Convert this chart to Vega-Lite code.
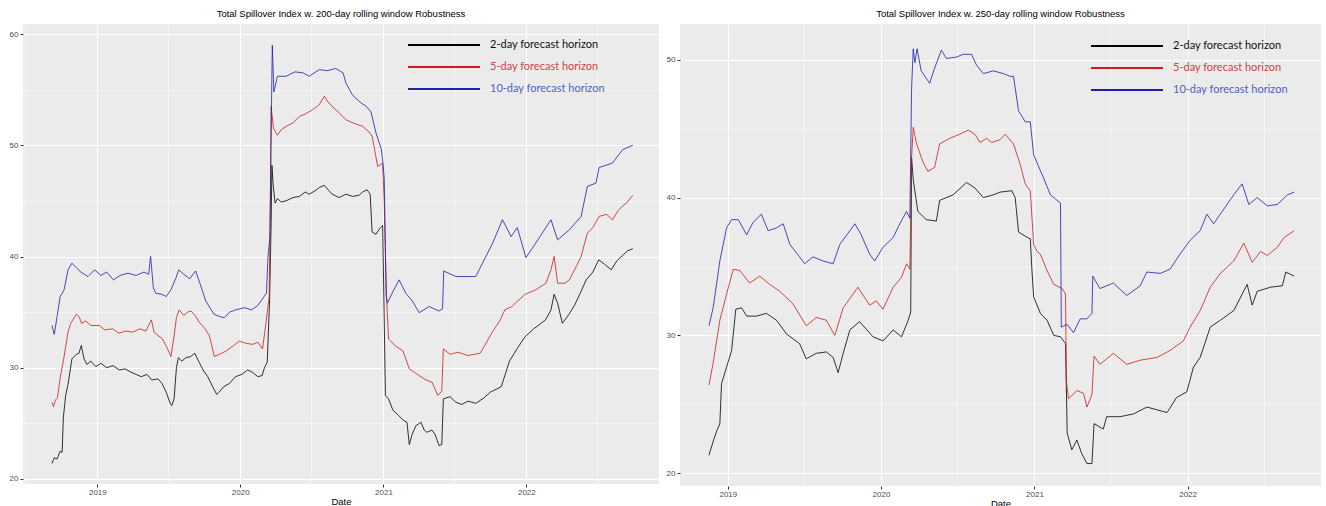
{
"$schema": "https://vega.github.io/schema/vega-lite/v6.json",
"padding": {"left": 9, "top": 8, "right": 4, "bottom": 0},
"spacing": 7,
"config": {
  "view": {"fill": "#EBEBEB", "stroke": null},
  "axis": {"domain": false, "gridColor": "#FFFFFF", "tickColor": "#333333", "tickSize": 3, "labelColor": "#4D4D4D", "labelFont": "Liberation Sans", "labelFontSize": 8, "labelPadding": 2, "titleFont": "Liberation Sans", "titleFontSize": 9.5, "titleFontWeight": "normal", "titleColor": "#000000", "labelOverlap": false},
  "title": {"font": "Liberation Sans", "fontSize": 9.5, "fontWeight": "normal", "color": "#000000", "anchor": "middle", "frame": "group", "offset": 6},
  "legend": {"orient": "none", "title": null, "symbolType": "M-6,0H6", "symbolSize": 144, "symbolStrokeWidth": 2, "symbolOffset": 30, "labelFont": "Lato", "labelFontSize": 11, "labelOffset": 39, "rowPadding": 10, "padding": 0, "labelLimit": 300}
},
"resolve": {"scale": {"x": "independent", "y": "independent", "color": "independent"}, "legend": {"color": "independent"}},
"datasets": {
"left": [
{"h":"2","d":"2018-09-07","v":21.4},{"h":"2","d":"2018-09-13","v":21.9},{"h":"2","d":"2018-09-20","v":21.8},{"h":"2","d":"2018-09-28","v":22.5},{"h":"2","d":"2018-10-03","v":22.4},{"h":"2","d":"2018-10-06","v":25.5},{"h":"2","d":"2018-10-12","v":27.5},{"h":"2","d":"2018-10-18","v":28.5},{"h":"2","d":"2018-10-28","v":30.8},{"h":"2","d":"2018-11-08","v":31.2},{"h":"2","d":"2018-11-15","v":31.3},{"h":"2","d":"2018-11-21","v":32.0},{"h":"2","d":"2018-11-28","v":30.8},{"h":"2","d":"2018-12-05","v":30.3},{"h":"2","d":"2018-12-15","v":30.6},{"h":"2","d":"2018-12-28","v":30.1},{"h":"2","d":"2019-01-10","v":30.4},{"h":"2","d":"2019-01-25","v":30.0},{"h":"2","d":"2019-02-10","v":30.2},{"h":"2","d":"2019-02-26","v":29.8},{"h":"2","d":"2019-03-13","v":29.9},{"h":"2","d":"2019-03-28","v":29.6},{"h":"2","d":"2019-04-10","v":29.4},{"h":"2","d":"2019-04-23","v":29.2},{"h":"2","d":"2019-05-08","v":29.4},{"h":"2","d":"2019-05-20","v":28.9},{"h":"2","d":"2019-06-05","v":29.0},{"h":"2","d":"2019-06-15","v":28.6},{"h":"2","d":"2019-06-26","v":27.8},{"h":"2","d":"2019-07-06","v":26.8},{"h":"2","d":"2019-07-10","v":26.6},{"h":"2","d":"2019-07-16","v":27.2},{"h":"2","d":"2019-07-22","v":30.0},{"h":"2","d":"2019-07-27","v":30.9},{"h":"2","d":"2019-08-05","v":30.6},{"h":"2","d":"2019-08-15","v":30.9},{"h":"2","d":"2019-08-27","v":31.0},{"h":"2","d":"2019-09-07","v":31.3},{"h":"2","d":"2019-09-18","v":30.5},{"h":"2","d":"2019-09-28","v":29.8},{"h":"2","d":"2019-10-10","v":29.2},{"h":"2","d":"2019-10-24","v":28.2},{"h":"2","d":"2019-11-02","v":27.6},{"h":"2","d":"2019-11-08","v":27.8},{"h":"2","d":"2019-11-20","v":28.3},{"h":"2","d":"2019-12-05","v":28.6},{"h":"2","d":"2019-12-20","v":29.2},{"h":"2","d":"2020-01-05","v":29.4},{"h":"2","d":"2020-01-20","v":29.8},{"h":"2","d":"2020-02-01","v":29.6},{"h":"2","d":"2020-02-15","v":29.2},{"h":"2","d":"2020-02-26","v":29.3},{"h":"2","d":"2020-03-03","v":30.0},{"h":"2","d":"2020-03-10","v":30.5},{"h":"2","d":"2020-03-16","v":36.0},{"h":"2","d":"2020-03-20","v":43.0},{"h":"2","d":"2020-03-22","v":48.2},{"h":"2","d":"2020-03-25","v":46.5},{"h":"2","d":"2020-03-30","v":44.8},{"h":"2","d":"2020-04-05","v":45.2},{"h":"2","d":"2020-04-15","v":44.9},{"h":"2","d":"2020-04-27","v":45.0},{"h":"2","d":"2020-05-15","v":45.3},{"h":"2","d":"2020-05-31","v":45.4},{"h":"2","d":"2020-06-15","v":45.8},{"h":"2","d":"2020-06-25","v":45.6},{"h":"2","d":"2020-07-10","v":45.9},{"h":"2","d":"2020-07-21","v":46.2},{"h":"2","d":"2020-08-03","v":46.4},{"h":"2","d":"2020-08-15","v":45.9},{"h":"2","d":"2020-08-23","v":45.6},{"h":"2","d":"2020-09-10","v":45.3},{"h":"2","d":"2020-09-27","v":45.6},{"h":"2","d":"2020-10-14","v":45.4},{"h":"2","d":"2020-10-30","v":45.5},{"h":"2","d":"2020-11-09","v":45.8},{"h":"2","d":"2020-11-20","v":46.0},{"h":"2","d":"2020-11-28","v":45.6},{"h":"2","d":"2020-12-03","v":42.2},{"h":"2","d":"2020-12-13","v":42.0},{"h":"2","d":"2020-12-22","v":42.5},{"h":"2","d":"2020-12-30","v":42.8},{"h":"2","d":"2021-01-06","v":27.5},{"h":"2","d":"2021-01-14","v":27.2},{"h":"2","d":"2021-01-25","v":26.2},{"h":"2","d":"2021-02-09","v":25.7},{"h":"2","d":"2021-02-20","v":25.3},{"h":"2","d":"2021-03-02","v":25.1},{"h":"2","d":"2021-03-08","v":23.1},{"h":"2","d":"2021-03-15","v":24.0},{"h":"2","d":"2021-03-25","v":24.8},{"h":"2","d":"2021-04-07","v":25.1},{"h":"2","d":"2021-04-15","v":24.4},{"h":"2","d":"2021-04-22","v":24.2},{"h":"2","d":"2021-05-05","v":24.4},{"h":"2","d":"2021-05-13","v":24.0},{"h":"2","d":"2021-05-23","v":23.0},{"h":"2","d":"2021-05-30","v":23.1},{"h":"2","d":"2021-06-03","v":27.2},{"h":"2","d":"2021-06-20","v":27.4},{"h":"2","d":"2021-07-05","v":26.9},{"h":"2","d":"2021-07-20","v":26.7},{"h":"2","d":"2021-08-05","v":27.0},{"h":"2","d":"2021-08-25","v":26.8},{"h":"2","d":"2021-09-15","v":27.3},{"h":"2","d":"2021-10-01","v":27.8},{"h":"2","d":"2021-10-29","v":28.3},{"h":"2","d":"2021-11-19","v":30.6},{"h":"2","d":"2021-12-10","v":31.8},{"h":"2","d":"2021-12-29","v":32.8},{"h":"2","d":"2022-01-20","v":33.5},{"h":"2","d":"2022-02-19","v":34.3},{"h":"2","d":"2022-03-05","v":35.2},{"h":"2","d":"2022-03-13","v":36.6},{"h":"2","d":"2022-03-22","v":35.8},{"h":"2","d":"2022-04-03","v":34.0},{"h":"2","d":"2022-04-20","v":34.8},{"h":"2","d":"2022-05-04","v":35.6},{"h":"2","d":"2022-05-20","v":36.8},{"h":"2","d":"2022-06-03","v":37.9},{"h":"2","d":"2022-06-20","v":38.6},{"h":"2","d":"2022-07-05","v":39.7},{"h":"2","d":"2022-07-20","v":39.3},{"h":"2","d":"2022-08-06","v":38.8},{"h":"2","d":"2022-08-20","v":39.6},{"h":"2","d":"2022-09-04","v":40.1},{"h":"2","d":"2022-09-16","v":40.5},{"h":"2","d":"2022-09-30","v":40.7},
{"h":"5","d":"2018-09-07","v":26.9},{"h":"5","d":"2018-09-11","v":26.5},{"h":"5","d":"2018-09-16","v":27.1},{"h":"5","d":"2018-09-21","v":27.3},{"h":"5","d":"2018-09-28","v":29.1},{"h":"5","d":"2018-10-08","v":31.0},{"h":"5","d":"2018-10-18","v":33.2},{"h":"5","d":"2018-10-25","v":34.0},{"h":"5","d":"2018-11-08","v":34.8},{"h":"5","d":"2018-11-15","v":34.6},{"h":"5","d":"2018-11-22","v":34.0},{"h":"5","d":"2018-12-02","v":34.2},{"h":"5","d":"2018-12-15","v":33.8},{"h":"5","d":"2019-01-06","v":33.8},{"h":"5","d":"2019-01-20","v":33.4},{"h":"5","d":"2019-02-09","v":33.5},{"h":"5","d":"2019-02-25","v":33.1},{"h":"5","d":"2019-03-15","v":33.3},{"h":"5","d":"2019-04-01","v":33.2},{"h":"5","d":"2019-04-20","v":33.5},{"h":"5","d":"2019-05-05","v":33.3},{"h":"5","d":"2019-05-19","v":34.3},{"h":"5","d":"2019-05-26","v":33.2},{"h":"5","d":"2019-06-05","v":32.9},{"h":"5","d":"2019-06-16","v":32.6},{"h":"5","d":"2019-06-28","v":31.8},{"h":"5","d":"2019-07-08","v":31.0},{"h":"5","d":"2019-07-15","v":32.6},{"h":"5","d":"2019-07-22","v":34.5},{"h":"5","d":"2019-07-29","v":35.2},{"h":"5","d":"2019-08-10","v":34.7},{"h":"5","d":"2019-08-20","v":35.0},{"h":"5","d":"2019-08-28","v":35.1},{"h":"5","d":"2019-09-08","v":34.7},{"h":"5","d":"2019-09-18","v":34.1},{"h":"5","d":"2019-10-01","v":33.6},{"h":"5","d":"2019-10-14","v":32.9},{"h":"5","d":"2019-10-27","v":31.0},{"h":"5","d":"2019-11-08","v":31.2},{"h":"5","d":"2019-11-26","v":31.5},{"h":"5","d":"2019-12-15","v":32.0},{"h":"5","d":"2019-12-30","v":32.4},{"h":"5","d":"2020-01-15","v":32.2},{"h":"5","d":"2020-02-02","v":32.1},{"h":"5","d":"2020-02-15","v":32.3},{"h":"5","d":"2020-02-27","v":31.7},{"h":"5","d":"2020-03-07","v":34.1},{"h":"5","d":"2020-03-15","v":36.4},{"h":"5","d":"2020-03-18","v":45.0},{"h":"5","d":"2020-03-20","v":53.5},{"h":"5","d":"2020-03-26","v":51.5},{"h":"5","d":"2020-04-05","v":50.9},{"h":"5","d":"2020-04-15","v":51.4},{"h":"5","d":"2020-04-27","v":51.7},{"h":"5","d":"2020-05-15","v":52.0},{"h":"5","d":"2020-05-31","v":52.6},{"h":"5","d":"2020-06-15","v":52.8},{"h":"5","d":"2020-07-04","v":53.2},{"h":"5","d":"2020-07-20","v":53.6},{"h":"5","d":"2020-08-03","v":54.4},{"h":"5","d":"2020-08-12","v":53.9},{"h":"5","d":"2020-08-23","v":53.5},{"h":"5","d":"2020-09-10","v":52.9},{"h":"5","d":"2020-09-27","v":52.3},{"h":"5","d":"2020-10-15","v":52.0},{"h":"5","d":"2020-11-09","v":51.7},{"h":"5","d":"2020-11-25","v":51.2},{"h":"5","d":"2020-12-03","v":50.8},{"h":"5","d":"2020-12-10","v":49.5},{"h":"5","d":"2020-12-17","v":48.1},{"h":"5","d":"2020-12-30","v":48.4},{"h":"5","d":"2021-01-03","v":44.8},{"h":"5","d":"2021-01-08","v":37.0},{"h":"5","d":"2021-01-14","v":32.6},{"h":"5","d":"2021-01-30","v":32.0},{"h":"5","d":"2021-02-20","v":31.5},{"h":"5","d":"2021-03-08","v":29.9},{"h":"5","d":"2021-04-02","v":29.3},{"h":"5","d":"2021-04-20","v":28.9},{"h":"5","d":"2021-05-05","v":28.7},{"h":"5","d":"2021-05-20","v":27.5},{"h":"5","d":"2021-05-30","v":27.9},{"h":"5","d":"2021-06-03","v":31.7},{"h":"5","d":"2021-06-20","v":31.2},{"h":"5","d":"2021-07-10","v":31.4},{"h":"5","d":"2021-08-05","v":31.1},{"h":"5","d":"2021-09-05","v":31.3},{"h":"5","d":"2021-09-20","v":32.2},{"h":"5","d":"2021-10-06","v":33.2},{"h":"5","d":"2021-10-25","v":34.2},{"h":"5","d":"2021-11-07","v":35.2},{"h":"5","d":"2021-11-25","v":35.5},{"h":"5","d":"2021-12-10","v":36.0},{"h":"5","d":"2021-12-29","v":36.6},{"h":"5","d":"2022-01-25","v":37.0},{"h":"5","d":"2022-02-20","v":37.6},{"h":"5","d":"2022-03-05","v":38.8},{"h":"5","d":"2022-03-13","v":40.0},{"h":"5","d":"2022-03-22","v":37.6},{"h":"5","d":"2022-04-10","v":37.6},{"h":"5","d":"2022-04-21","v":37.9},{"h":"5","d":"2022-05-10","v":39.2},{"h":"5","d":"2022-05-21","v":40.0},{"h":"5","d":"2022-06-06","v":42.1},{"h":"5","d":"2022-06-20","v":42.6},{"h":"5","d":"2022-07-06","v":43.6},{"h":"5","d":"2022-07-25","v":43.8},{"h":"5","d":"2022-08-09","v":43.3},{"h":"5","d":"2022-08-25","v":44.2},{"h":"5","d":"2022-09-16","v":44.9},{"h":"5","d":"2022-09-30","v":45.5},
{"h":"10","d":"2018-09-07","v":33.8},{"h":"10","d":"2018-09-13","v":33.0},{"h":"10","d":"2018-09-20","v":34.6},{"h":"10","d":"2018-09-28","v":36.4},{"h":"10","d":"2018-10-08","v":37.0},{"h":"10","d":"2018-10-18","v":38.8},{"h":"10","d":"2018-10-28","v":39.4},{"h":"10","d":"2018-11-08","v":39.0},{"h":"10","d":"2018-11-20","v":38.6},{"h":"10","d":"2018-12-08","v":38.2},{"h":"10","d":"2018-12-25","v":38.8},{"h":"10","d":"2019-01-10","v":38.3},{"h":"10","d":"2019-01-25","v":38.6},{"h":"10","d":"2019-02-11","v":37.9},{"h":"10","d":"2019-02-28","v":38.3},{"h":"10","d":"2019-03-20","v":38.5},{"h":"10","d":"2019-04-10","v":38.3},{"h":"10","d":"2019-04-30","v":38.6},{"h":"10","d":"2019-05-12","v":38.4},{"h":"10","d":"2019-05-17","v":40.0},{"h":"10","d":"2019-05-24","v":37.2},{"h":"10","d":"2019-05-30","v":36.7},{"h":"10","d":"2019-06-15","v":36.6},{"h":"10","d":"2019-06-26","v":36.4},{"h":"10","d":"2019-07-08","v":37.0},{"h":"10","d":"2019-07-20","v":38.0},{"h":"10","d":"2019-07-28","v":38.8},{"h":"10","d":"2019-08-10","v":38.4},{"h":"10","d":"2019-08-25","v":38.0},{"h":"10","d":"2019-09-09","v":38.7},{"h":"10","d":"2019-09-20","v":37.6},{"h":"10","d":"2019-10-05","v":36.0},{"h":"10","d":"2019-10-26","v":34.8},{"h":"10","d":"2019-11-10","v":34.6},{"h":"10","d":"2019-11-21","v":34.5},{"h":"10","d":"2019-12-05","v":35.0},{"h":"10","d":"2019-12-20","v":35.2},{"h":"10","d":"2020-01-12","v":35.4},{"h":"10","d":"2020-01-30","v":35.2},{"h":"10","d":"2020-02-15","v":35.6},{"h":"10","d":"2020-03-02","v":36.4},{"h":"10","d":"2020-03-08","v":36.7},{"h":"10","d":"2020-03-12","v":40.0},{"h":"10","d":"2020-03-17","v":41.8},{"h":"10","d":"2020-03-20","v":51.0},{"h":"10","d":"2020-03-23","v":59.0},{"h":"10","d":"2020-03-27","v":54.8},{"h":"10","d":"2020-04-05","v":56.2},{"h":"10","d":"2020-04-27","v":56.2},{"h":"10","d":"2020-05-20","v":56.6},{"h":"10","d":"2020-06-10","v":56.5},{"h":"10","d":"2020-06-25","v":56.2},{"h":"10","d":"2020-07-21","v":56.8},{"h":"10","d":"2020-08-10","v":56.7},{"h":"10","d":"2020-09-01","v":56.9},{"h":"10","d":"2020-09-20","v":56.5},{"h":"10","d":"2020-09-27","v":55.6},{"h":"10","d":"2020-10-14","v":54.5},{"h":"10","d":"2020-11-05","v":53.8},{"h":"10","d":"2020-11-18","v":53.5},{"h":"10","d":"2020-11-30","v":53.0},{"h":"10","d":"2020-12-13","v":51.1},{"h":"10","d":"2020-12-26","v":49.7},{"h":"10","d":"2020-12-30","v":48.7},{"h":"10","d":"2021-01-03","v":47.0},{"h":"10","d":"2021-01-08","v":36.5},{"h":"10","d":"2021-01-11","v":35.8},{"h":"10","d":"2021-01-23","v":36.7},{"h":"10","d":"2021-02-10","v":37.9},{"h":"10","d":"2021-02-27","v":36.7},{"h":"10","d":"2021-03-16","v":36.0},{"h":"10","d":"2021-04-02","v":34.95},{"h":"10","d":"2021-04-28","v":35.5},{"h":"10","d":"2021-05-23","v":35.1},{"h":"10","d":"2021-06-01","v":35.3},{"h":"10","d":"2021-06-04","v":38.7},{"h":"10","d":"2021-07-05","v":38.2},{"h":"10","d":"2021-08-25","v":38.2},{"h":"10","d":"2021-09-11","v":39.4},{"h":"10","d":"2021-10-07","v":41.2},{"h":"10","d":"2021-11-01","v":43.3},{"h":"10","d":"2021-11-23","v":41.8},{"h":"10","d":"2021-12-09","v":42.6},{"h":"10","d":"2021-12-31","v":39.9},{"h":"10","d":"2022-01-25","v":41.2},{"h":"10","d":"2022-03-05","v":43.3},{"h":"10","d":"2022-03-22","v":41.5},{"h":"10","d":"2022-04-21","v":42.4},{"h":"10","d":"2022-05-21","v":43.6},{"h":"10","d":"2022-06-06","v":46.3},{"h":"10","d":"2022-06-28","v":46.6},{"h":"10","d":"2022-07-06","v":48.0},{"h":"10","d":"2022-08-09","v":48.4},{"h":"10","d":"2022-09-04","v":49.6},{"h":"10","d":"2022-09-30","v":50.0}
],
"right": [
{"h":"2","d":"2018-11-17","v":21.3},{"h":"2","d":"2018-11-27","v":22.3},{"h":"2","d":"2018-12-06","v":23.1},{"h":"2","d":"2018-12-13","v":23.6},{"h":"2","d":"2018-12-17","v":26.5},{"h":"2","d":"2018-12-29","v":27.7},{"h":"2","d":"2019-01-10","v":28.9},{"h":"2","d":"2019-01-20","v":31.9},{"h":"2","d":"2019-02-03","v":32.0},{"h":"2","d":"2019-02-15","v":31.4},{"h":"2","d":"2019-03-10","v":31.4},{"h":"2","d":"2019-04-03","v":31.6},{"h":"2","d":"2019-04-27","v":31.1},{"h":"2","d":"2019-05-21","v":30.1},{"h":"2","d":"2019-06-21","v":29.4},{"h":"2","d":"2019-07-07","v":28.3},{"h":"2","d":"2019-07-31","v":28.7},{"h":"2","d":"2019-08-24","v":28.8},{"h":"2","d":"2019-09-09","v":28.4},{"h":"2","d":"2019-09-21","v":27.3},{"h":"2","d":"2019-10-03","v":28.7},{"h":"2","d":"2019-10-19","v":30.4},{"h":"2","d":"2019-11-11","v":31.0},{"h":"2","d":"2019-12-13","v":29.9},{"h":"2","d":"2020-01-06","v":29.6},{"h":"2","d":"2020-01-30","v":30.4},{"h":"2","d":"2020-02-19","v":29.9},{"h":"2","d":"2020-03-06","v":31.1},{"h":"2","d":"2020-03-12","v":31.7},{"h":"2","d":"2020-03-14","v":42.9},{"h":"2","d":"2020-03-18","v":41.3},{"h":"2","d":"2020-03-29","v":39.0},{"h":"2","d":"2020-04-18","v":38.4},{"h":"2","d":"2020-05-12","v":38.3},{"h":"2","d":"2020-05-20","v":39.8},{"h":"2","d":"2020-06-21","v":40.2},{"h":"2","d":"2020-07-23","v":41.1},{"h":"2","d":"2020-08-12","v":40.7},{"h":"2","d":"2020-09-01","v":40.0},{"h":"2","d":"2020-09-25","v":40.2},{"h":"2","d":"2020-10-11","v":40.4},{"h":"2","d":"2020-11-08","v":40.5},{"h":"2","d":"2020-11-16","v":40.0},{"h":"2","d":"2020-11-24","v":37.5},{"h":"2","d":"2020-12-10","v":37.2},{"h":"2","d":"2020-12-22","v":37.0},{"h":"2","d":"2020-12-26","v":34.7},{"h":"2","d":"2020-12-30","v":32.8},{"h":"2","d":"2021-01-15","v":31.6},{"h":"2","d":"2021-01-31","v":31.1},{"h":"2","d":"2021-02-16","v":30.0},{"h":"2","d":"2021-03-04","v":29.9},{"h":"2","d":"2021-03-16","v":29.4},{"h":"2","d":"2021-03-20","v":22.9},{"h":"2","d":"2021-03-31","v":21.7},{"h":"2","d":"2021-04-12","v":22.4},{"h":"2","d":"2021-04-24","v":21.4},{"h":"2","d":"2021-05-06","v":20.7},{"h":"2","d":"2021-05-18","v":20.7},{"h":"2","d":"2021-05-23","v":23.6},{"h":"2","d":"2021-06-14","v":23.2},{"h":"2","d":"2021-06-22","v":24.1},{"h":"2","d":"2021-07-24","v":24.1},{"h":"2","d":"2021-08-25","v":24.3},{"h":"2","d":"2021-09-26","v":24.8},{"h":"2","d":"2021-10-20","v":24.6},{"h":"2","d":"2021-11-13","v":24.4},{"h":"2","d":"2021-12-06","v":25.5},{"h":"2","d":"2021-12-30","v":25.9},{"h":"2","d":"2022-01-15","v":27.7},{"h":"2","d":"2022-01-31","v":28.4},{"h":"2","d":"2022-02-24","v":30.6},{"h":"2","d":"2022-03-20","v":31.1},{"h":"2","d":"2022-04-21","v":31.8},{"h":"2","d":"2022-05-23","v":33.7},{"h":"2","d":"2022-06-04","v":32.2},{"h":"2","d":"2022-06-16","v":33.2},{"h":"2","d":"2022-07-18","v":33.5},{"h":"2","d":"2022-08-15","v":33.6},{"h":"2","d":"2022-08-23","v":34.6},{"h":"2","d":"2022-09-12","v":34.3},
{"h":"5","d":"2018-11-17","v":26.4},{"h":"5","d":"2018-11-27","v":28.0},{"h":"5","d":"2018-12-13","v":31.1},{"h":"5","d":"2018-12-29","v":33.0},{"h":"5","d":"2019-01-14","v":34.8},{"h":"5","d":"2019-01-30","v":34.7},{"h":"5","d":"2019-02-22","v":33.8},{"h":"5","d":"2019-03-18","v":34.3},{"h":"5","d":"2019-04-11","v":33.7},{"h":"5","d":"2019-05-05","v":33.2},{"h":"5","d":"2019-06-05","v":32.3},{"h":"5","d":"2019-07-07","v":30.7},{"h":"5","d":"2019-07-31","v":31.3},{"h":"5","d":"2019-08-24","v":31.1},{"h":"5","d":"2019-09-13","v":30.0},{"h":"5","d":"2019-10-03","v":32.0},{"h":"5","d":"2019-11-07","v":33.5},{"h":"5","d":"2019-12-05","v":32.2},{"h":"5","d":"2019-12-21","v":32.5},{"h":"5","d":"2020-01-06","v":31.9},{"h":"5","d":"2020-01-30","v":33.5},{"h":"5","d":"2020-02-19","v":34.2},{"h":"5","d":"2020-03-02","v":35.2},{"h":"5","d":"2020-03-10","v":34.8},{"h":"5","d":"2020-03-14","v":42.9},{"h":"5","d":"2020-03-18","v":45.1},{"h":"5","d":"2020-03-26","v":43.9},{"h":"5","d":"2020-04-10","v":42.6},{"h":"5","d":"2020-04-22","v":41.9},{"h":"5","d":"2020-05-08","v":42.2},{"h":"5","d":"2020-05-20","v":43.9},{"h":"5","d":"2020-06-13","v":44.3},{"h":"5","d":"2020-07-07","v":44.6},{"h":"5","d":"2020-07-27","v":44.9},{"h":"5","d":"2020-08-12","v":44.6},{"h":"5","d":"2020-08-24","v":44.0},{"h":"5","d":"2020-09-09","v":44.3},{"h":"5","d":"2020-09-21","v":44.0},{"h":"5","d":"2020-10-11","v":44.2},{"h":"5","d":"2020-10-23","v":44.6},{"h":"5","d":"2020-11-12","v":43.9},{"h":"5","d":"2020-11-28","v":42.4},{"h":"5","d":"2020-12-10","v":41.0},{"h":"5","d":"2020-12-22","v":40.5},{"h":"5","d":"2020-12-30","v":36.6},{"h":"5","d":"2021-01-07","v":36.1},{"h":"5","d":"2021-01-15","v":35.9},{"h":"5","d":"2021-01-31","v":34.7},{"h":"5","d":"2021-02-16","v":33.7},{"h":"5","d":"2021-03-08","v":33.4},{"h":"5","d":"2021-03-16","v":33.0},{"h":"5","d":"2021-03-18","v":26.7},{"h":"5","d":"2021-03-23","v":25.4},{"h":"5","d":"2021-04-12","v":26.0},{"h":"5","d":"2021-04-28","v":25.8},{"h":"5","d":"2021-05-06","v":24.8},{"h":"5","d":"2021-05-18","v":25.7},{"h":"5","d":"2021-05-23","v":28.5},{"h":"5","d":"2021-06-06","v":27.9},{"h":"5","d":"2021-07-08","v":28.7},{"h":"5","d":"2021-08-09","v":27.9},{"h":"5","d":"2021-09-10","v":28.2},{"h":"5","d":"2021-10-20","v":28.4},{"h":"5","d":"2021-11-20","v":28.9},{"h":"5","d":"2021-12-22","v":29.6},{"h":"5","d":"2022-01-07","v":30.6},{"h":"5","d":"2022-01-31","v":31.8},{"h":"5","d":"2022-02-24","v":33.5},{"h":"5","d":"2022-03-20","v":34.5},{"h":"5","d":"2022-04-21","v":35.4},{"h":"5","d":"2022-05-15","v":36.7},{"h":"5","d":"2022-06-04","v":35.3},{"h":"5","d":"2022-06-24","v":36.1},{"h":"5","d":"2022-07-10","v":35.8},{"h":"5","d":"2022-08-03","v":36.4},{"h":"5","d":"2022-08-19","v":37.1},{"h":"5","d":"2022-09-12","v":37.6},
{"h":"10","d":"2018-11-17","v":30.7},{"h":"10","d":"2018-11-27","v":32.0},{"h":"10","d":"2018-12-13","v":35.4},{"h":"10","d":"2018-12-29","v":37.8},{"h":"10","d":"2019-01-10","v":38.4},{"h":"10","d":"2019-01-26","v":38.4},{"h":"10","d":"2019-02-15","v":37.3},{"h":"10","d":"2019-03-02","v":38.2},{"h":"10","d":"2019-03-22","v":38.8},{"h":"10","d":"2019-04-07","v":37.6},{"h":"10","d":"2019-04-27","v":37.8},{"h":"10","d":"2019-05-13","v":38.1},{"h":"10","d":"2019-05-29","v":36.6},{"h":"10","d":"2019-06-21","v":35.7},{"h":"10","d":"2019-07-03","v":35.2},{"h":"10","d":"2019-07-23","v":35.7},{"h":"10","d":"2019-08-16","v":35.4},{"h":"10","d":"2019-09-09","v":35.2},{"h":"10","d":"2019-09-25","v":36.6},{"h":"10","d":"2019-10-31","v":38.1},{"h":"10","d":"2019-11-15","v":37.3},{"h":"10","d":"2019-12-05","v":35.9},{"h":"10","d":"2019-12-17","v":35.4},{"h":"10","d":"2020-01-06","v":36.4},{"h":"10","d":"2020-01-30","v":37.1},{"h":"10","d":"2020-02-15","v":38.1},{"h":"10","d":"2020-03-02","v":39.0},{"h":"10","d":"2020-03-10","v":38.5},{"h":"10","d":"2020-03-14","v":47.9},{"h":"10","d":"2020-03-18","v":50.8},{"h":"10","d":"2020-03-22","v":49.8},{"h":"10","d":"2020-03-27","v":50.8},{"h":"10","d":"2020-04-06","v":49.2},{"h":"10","d":"2020-04-26","v":48.3},{"h":"10","d":"2020-05-08","v":49.4},{"h":"10","d":"2020-05-24","v":50.7},{"h":"10","d":"2020-06-05","v":50.1},{"h":"10","d":"2020-06-29","v":50.2},{"h":"10","d":"2020-07-15","v":50.4},{"h":"10","d":"2020-08-04","v":50.4},{"h":"10","d":"2020-08-16","v":49.6},{"h":"10","d":"2020-09-01","v":49.0},{"h":"10","d":"2020-09-25","v":49.2},{"h":"10","d":"2020-10-19","v":49.0},{"h":"10","d":"2020-11-04","v":48.8},{"h":"10","d":"2020-11-12","v":48.8},{"h":"10","d":"2020-11-24","v":46.3},{"h":"10","d":"2020-12-10","v":45.5},{"h":"10","d":"2020-12-22","v":45.5},{"h":"10","d":"2020-12-30","v":43.1},{"h":"10","d":"2021-01-23","v":41.4},{"h":"10","d":"2021-02-08","v":40.2},{"h":"10","d":"2021-03-04","v":39.6},{"h":"10","d":"2021-03-06","v":30.6},{"h":"10","d":"2021-03-20","v":30.8},{"h":"10","d":"2021-04-04","v":30.2},{"h":"10","d":"2021-04-20","v":31.2},{"h":"10","d":"2021-05-06","v":31.2},{"h":"10","d":"2021-05-18","v":31.6},{"h":"10","d":"2021-05-20","v":34.3},{"h":"10","d":"2021-06-06","v":33.4},{"h":"10","d":"2021-07-08","v":33.8},{"h":"10","d":"2021-08-09","v":32.9},{"h":"10","d":"2021-09-10","v":33.6},{"h":"10","d":"2021-09-26","v":34.6},{"h":"10","d":"2021-10-28","v":34.5},{"h":"10","d":"2021-11-20","v":34.8},{"h":"10","d":"2021-12-14","v":35.9},{"h":"10","d":"2022-01-07","v":36.9},{"h":"10","d":"2022-01-31","v":37.6},{"h":"10","d":"2022-02-16","v":38.8},{"h":"10","d":"2022-03-04","v":38.1},{"h":"10","d":"2022-04-05","v":39.5},{"h":"10","d":"2022-04-21","v":40.2},{"h":"10","d":"2022-05-11","v":41.0},{"h":"10","d":"2022-05-27","v":39.5},{"h":"10","d":"2022-06-16","v":40.0},{"h":"10","d":"2022-07-10","v":39.4},{"h":"10","d":"2022-08-03","v":39.5},{"h":"10","d":"2022-08-27","v":40.2},{"h":"10","d":"2022-09-12","v":40.4}
]
},
"hconcat": [
{
  "title": {"text": "Total Spillover Index w. 200-day rolling window Robustness"},
  "width": 636, "height": 460,
  "data": {"name": "left"},
  "mark": {"type": "line", "strokeWidth": 0.8},
  "encoding": {
    "x": {"field": "d", "type": "temporal",
      "scale": {"type": "utc", "domain": [{"year": 2018, "month": 6, "date": 25, "utc": true}, {"year": 2022, "month": 12, "date": 6, "utc": true}]},
      "axis": {"title": "Date", "titlePadding": 0, "labelPadding": 1,
        "values": [{"year": 2018, "month": 7, "date": 1, "utc": true}, {"year": 2019, "month": 1, "date": 1, "utc": true}, {"year": 2019, "month": 7, "date": 1, "utc": true}, {"year": 2020, "month": 1, "date": 1, "utc": true}, {"year": 2020, "month": 7, "date": 1, "utc": true}, {"year": 2021, "month": 1, "date": 1, "utc": true}, {"year": 2021, "month": 7, "date": 1, "utc": true}, {"year": 2022, "month": 1, "date": 1, "utc": true}, {"year": 2022, "month": 7, "date": 1, "utc": true}],
        "labelExpr": "utcmonth(datum.value) == 0 ? utcFormat(datum.value, '%Y') : ''",
        "gridWidth": {"condition": {"test": "utcmonth(datum.value) == 6", "value": 0.5}, "value": 1},
        "tickOpacity": {"condition": {"test": "utcmonth(datum.value) == 6", "value": 0}, "value": 1}}},
    "y": {"field": "v", "type": "quantitative",
      "scale": {"domain": [19.55, 60.9], "nice": false, "zero": false},
      "axis": {"title": null, "values": [20, 25, 30, 35, 40, 45, 50, 55, 60],
        "labelExpr": "datum.value % 10 == 0 ? datum.label : ''",
        "gridWidth": {"condition": {"test": "datum.value % 10 != 0", "value": 0.5}, "value": 1},
        "tickOpacity": {"condition": {"test": "datum.value % 10 != 0", "value": 0}, "value": 1}}},
    "color": {"field": "h", "type": "nominal",
      "scale": {"domain": ["2", "5", "10"], "range": ["#000000", "#C81E1E", "#1E1EAA"]},
      "legend": {"legendX": 384, "legendY": 14, "labelExpr": "datum.label + '-day forecast horizon'",
        "labelColor": {"expr": "datum.value == '2' ? '#111111' : datum.value == '5' ? '#CC4444' : '#5060C0'"}}}
  }
},
{
  "title": {"text": "Total Spillover Index w. 250-day rolling window Robustness"},
  "width": 641, "height": 462,
  "data": {"name": "right"},
  "mark": {"type": "line", "strokeWidth": 0.8},
  "encoding": {
    "x": {"field": "d", "type": "temporal",
      "scale": {"type": "utc", "domain": [{"year": 2018, "month": 9, "date": 9, "utc": true}, {"year": 2022, "month": 11, "date": 15, "utc": true}]},
      "axis": {"title": "Date", "titlePadding": 0, "labelPadding": 1,
        "values": [{"year": 2019, "month": 1, "date": 1, "utc": true}, {"year": 2019, "month": 7, "date": 1, "utc": true}, {"year": 2020, "month": 1, "date": 1, "utc": true}, {"year": 2020, "month": 7, "date": 1, "utc": true}, {"year": 2021, "month": 1, "date": 1, "utc": true}, {"year": 2021, "month": 7, "date": 1, "utc": true}, {"year": 2022, "month": 1, "date": 1, "utc": true}, {"year": 2022, "month": 7, "date": 1, "utc": true}],
        "labelExpr": "utcmonth(datum.value) == 0 ? utcFormat(datum.value, '%Y') : ''",
        "gridWidth": {"condition": {"test": "utcmonth(datum.value) == 6", "value": 0.5}, "value": 1},
        "tickOpacity": {"condition": {"test": "utcmonth(datum.value) == 6", "value": 0}, "value": 1}}},
    "y": {"field": "v", "type": "quantitative",
      "scale": {"domain": [19.07, 52.6], "nice": false, "zero": false},
      "axis": {"title": null, "values": [20, 25, 30, 35, 40, 45, 50],
        "labelExpr": "datum.value % 10 == 0 ? datum.label : ''",
        "gridWidth": {"condition": {"test": "datum.value % 10 != 0", "value": 0.5}, "value": 1},
        "tickOpacity": {"condition": {"test": "datum.value % 10 != 0", "value": 0}, "value": 1}}},
    "color": {"field": "h", "type": "nominal",
      "scale": {"domain": ["2", "5", "10"], "range": ["#000000", "#C81E1E", "#1E1EAA"]},
      "legend": {"legendX": 410, "legendY": 15, "labelExpr": "datum.label + '-day forecast horizon'",
        "labelColor": {"expr": "datum.value == '2' ? '#111111' : datum.value == '5' ? '#CC4444' : '#5060C0'"}}}
  }
}
]
}
